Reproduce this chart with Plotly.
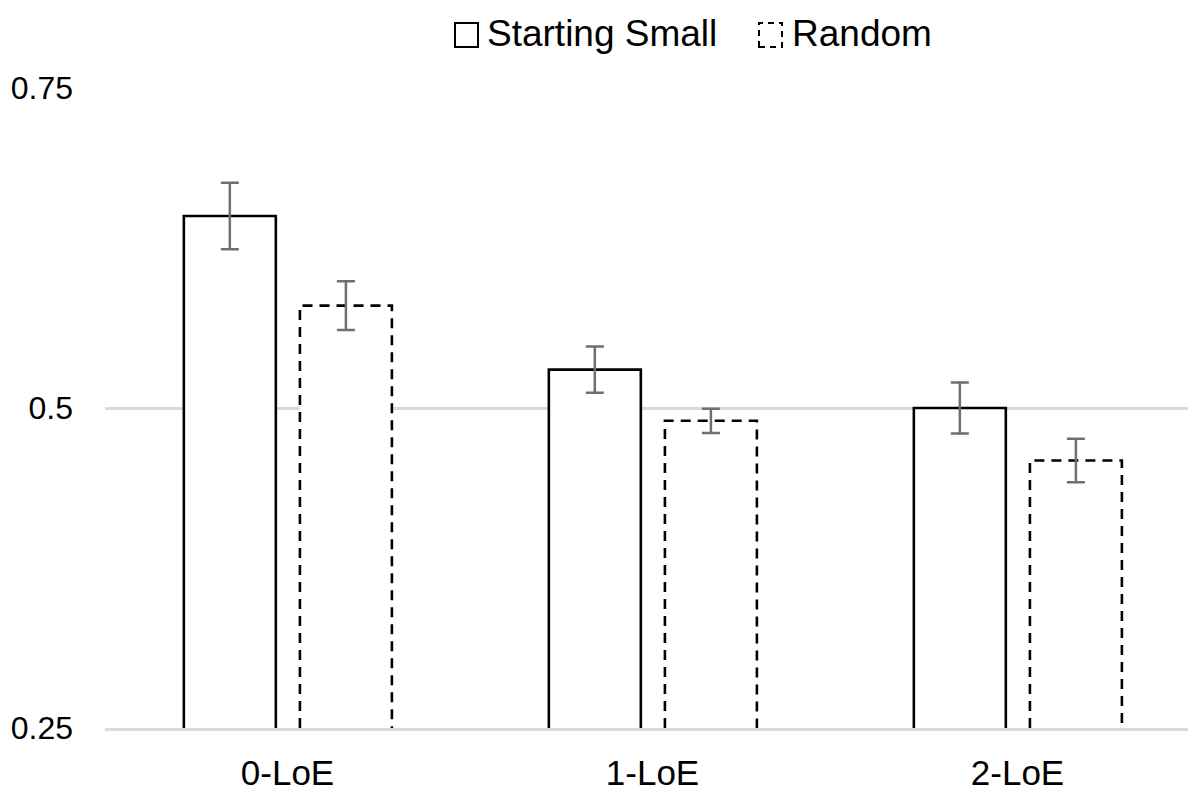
import plotly.graph_objects as go

categories = ["0-LoE", "1-LoE", "2-LoE"]
series_names = ["Starting Small", "Random"]
starting_small = [0.65, 0.53, 0.50]
starting_small_err = [0.026, 0.018, 0.020]
random_vals = [0.58, 0.49, 0.459]
random_err = [0.019, 0.0095, 0.017]
y_ticks = [0.25, 0.5, 0.75]
y_tick_labels = ["0.25", "0.5", "0.75"]

FONT = "Liberation Sans"
BASE = 0.25
WIDTH = 0.252
OFFSETS = [-0.158, 0.16]
DASHES = ["solid", "10px,7px"]
ERR_COLOR = "#6f6f6f"

fig = go.Figure()
xs = list(range(len(categories)))
series = [(starting_small, starting_small_err), (random_vals, random_err)]

# white fills
for (vals, _), off, name in zip(series, OFFSETS, series_names):
    fig.add_trace(go.Bar(
        x=[x + off for x in xs], y=vals, width=WIDTH,
        marker=dict(color="white", line=dict(width=0)),
        name=name, showlegend=False, hoverinfo="skip"))

# outlines (left, top, right edges)
for (vals, _), off, dash, name in zip(series, OFFSETS, DASHES, series_names):
    px, py = [], []
    for x, v in zip(xs, vals):
        l, r = x + off - WIDTH / 2, x + off + WIDTH / 2
        px += [l, l, r, r, None]
        py += [BASE, v, v, BASE, None]
    fig.add_trace(go.Scatter(
        x=px, y=py, mode="lines", line=dict(color="black", width=2.6, dash=dash),
        showlegend=False, hoverinfo="skip", name=name))

# error bars
for (vals, errs), off, name in zip(series, OFFSETS, series_names):
    fig.add_trace(go.Scatter(
        x=[x + off for x in xs], y=vals, mode="markers",
        marker=dict(size=1, color="rgba(0,0,0,0)"),
        error_y=dict(type="data", array=errs, visible=True, color=ERR_COLOR,
                     thickness=2.5, width=9),
        showlegend=False, name=name))

L, R, T, B = 105, 0, 88, 70
W, H = 1188, 798
pw = W - L - R

def px_to_paper_x(p):
    return (p - L) / pw

def py_to_paper_y(p):
    return (H - B - p) / (H - T - B)

shapes = [
    dict(type="rect", xref="paper", yref="paper",
         x0=px_to_paper_x(455), x1=px_to_paper_x(478),
         y0=py_to_paper_y(47), y1=py_to_paper_y(23),
         line=dict(color="black", width=2), fillcolor="white"),
    dict(type="rect", xref="paper", yref="paper",
         x0=px_to_paper_x(759), x1=px_to_paper_x(782),
         y0=py_to_paper_y(47), y1=py_to_paper_y(23),
         line=dict(color="black", width=2, dash="6px,5px"), fillcolor="white"),
]
annotations = [
    dict(text=series_names[0], xref="paper", yref="paper",
         x=px_to_paper_x(485), y=py_to_paper_y(34), xanchor="left", yanchor="middle",
         showarrow=False, font=dict(family=FONT, size=37, color="black")),
    dict(text=series_names[1], xref="paper", yref="paper",
         x=px_to_paper_x(790), y=py_to_paper_y(34), xanchor="left", yanchor="middle",
         showarrow=False, font=dict(family=FONT, size=37, color="black")),
]

fig.update_layout(
    width=W, height=H,
    margin=dict(l=L, r=R, t=T, b=B),
    paper_bgcolor="white", plot_bgcolor="white",
    showlegend=False, barmode="overlay",
    shapes=shapes, annotations=annotations,
    font=dict(family=FONT, color="black"),
    xaxis=dict(
        range=[-0.5, -0.5 + pw / 365.0],
        tickmode="array", tickvals=xs, ticktext=categories,
        showgrid=False, zeroline=False, showline=True, linecolor="#d9d9d9", linewidth=2.5,
        ticks="", tickfont=dict(family=FONT, size=35, color="black"),
        ticklabelstandoff=12, fixedrange=True),
    yaxis=dict(
        range=[0.25, 0.75], tickmode="array", tickvals=y_ticks, ticktext=y_tick_labels,
        showgrid=True, gridcolor="#d9d9d9", gridwidth=2.5, zeroline=False,
        showline=False, ticks="", tickfont=dict(family=FONT, size=32, color="black"),
        ticklabelstandoff=31, fixedrange=True),
)

fig.write_html("out.html")
